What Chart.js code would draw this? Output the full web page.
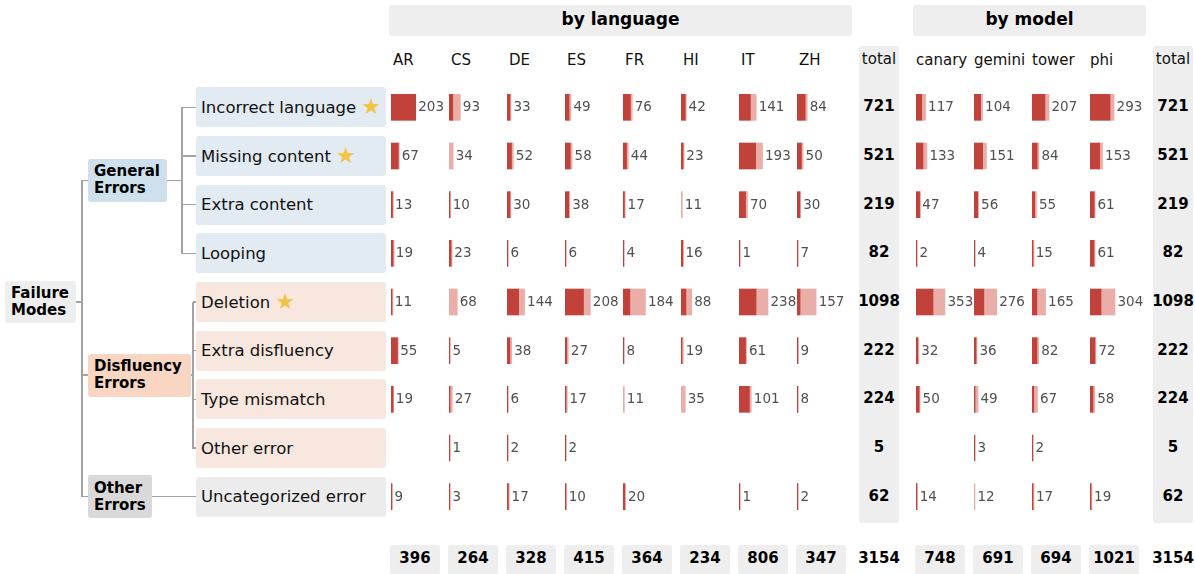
<!DOCTYPE html>
<html>
<head>
<meta charset="utf-8">
<script src="https://cdn.jsdelivr.net/npm/chart.js@4.4.0/dist/chart.umd.min.js"></script>
<style>
  body { margin: 0; background: #fff; font-family: "DejaVu Sans", sans-serif; }
  #fig { position: relative; width: 1195px; height: 574px; overflow: hidden; }
  .abs { position: absolute; box-sizing: border-box; }
  .box { border-radius: 3px; display: flex; align-items: center; }
  .bold { font-weight: bold; color: #000; }
  .line { position: absolute; background: #a3a3a3; }
  .star { color: #f2c443; font-size: 22px; margin-left: 5px; line-height: 1; }
</style>
</head>
<body>
<div id="fig"></div>
<script>
// rows of the table (failure modes)
const rowLabels = ['Incorrect language', 'Missing content', 'Extra content', 'Looping',
    'Deletion', 'Extra disfluency', 'Type mismatch', 'Other error', 'Uncategorized error'];
const starred = [true, true, false, false, true, false, false, false, false];
const rowGroup = [0, 0, 0, 0, 1, 1, 1, 1, 2];
const groupLabels = [['General', 'Errors'], ['Disfluency', 'Errors'], ['Other', 'Errors']];

const languages = ['AR', 'CS', 'DE', 'ES', 'FR', 'HI', 'IT', 'ZH'];
const models = ['canary', 'gemini', 'tower', 'phi'];

// counts per column (one list per language, one value per row)
const langCounts = [
    [203, 67, 13, 19, 11, 55, 19, 0, 9],
    [93, 34, 10, 23, 68, 5, 27, 1, 3],
    [33, 52, 30, 6, 144, 38, 6, 2, 17],
    [49, 58, 38, 6, 208, 27, 17, 2, 10],
    [76, 44, 17, 4, 184, 8, 11, 0, 20],
    [42, 23, 11, 16, 88, 19, 35, 0, 0],
    [141, 193, 70, 1, 238, 61, 101, 0, 1],
    [84, 50, 30, 7, 157, 9, 8, 0, 2]
];
// dark part of each bar (the rest is the light part)
const langDark = [
    [203, 60, 12, 17, 7, 53, 19, 0, 9],
    [31, 0, 10, 17, 0, 5, 8, 1, 3],
    [24, 37, 24, 6, 96, 23, 6, 2, 11],
    [33, 43, 31, 6, 152, 14, 6, 2, 10],
    [61, 29, 11, 4, 56, 8, 0, 0, 14],
    [35, 17, 0, 14, 40, 8, 0, 0, 0],
    [94, 137, 54, 1, 140, 54, 85, 0, 1],
    [67, 36, 23, 7, 25, 9, 8, 0, 2]
];
const modelCounts = [
    [117, 133, 47, 2, 353, 32, 50, 0, 14],
    [104, 151, 56, 4, 276, 36, 49, 3, 12],
    [207, 84, 55, 15, 165, 82, 67, 2, 17],
    [293, 153, 61, 61, 304, 72, 58, 0, 19]
];
const modelDark = [
    [70, 85, 44, 2, 207, 22, 38, 0, 14],
    [81, 105, 45, 4, 120, 25, 12, 3, 0],
    [158, 63, 33, 9, 59, 59, 22, 2, 10],
    [244, 118, 51, 49, 134, 60, 36, 0, 12]
];

const colors = {
    dark: '#c1423a',
    light: '#eaada8',
    label: '#505050',
    header: '#eeeeee',
    rowBg: ['#e2eaf2', '#f7e7df', '#ececec'],
    groupBg: ['#cde0ec', '#f8d6c2', '#d9d9d9']
};

// layout
const fig = document.getElementById('fig');
const chartTop = 83;
const chartH = 438;
const rowH = chartH / rowLabels.length;
const colW = 58;
const maxBarPx = 29;
const langLeft = 391;
const modelLeft = 916;
const rowCenter = i => chartTop + rowH * (i + 0.5);

function el(cls, x, y, w, h, bg, html) {
    const d = document.createElement('div');
    d.className = cls;
    d.style.left = x + 'px';
    d.style.top = y + 'px';
    if (w != null) d.style.width = w + 'px';
    if (h != null) d.style.height = h + 'px';
    if (bg) d.style.background = bg;
    if (html != null) d.innerHTML = html;
    fig.appendChild(d);
    return d;
}

function hLine(x1, x2, y) { el('line', x1, y - 0.75, x2 - x1, 1.5); }
function vLine(x, y1, y2) { el('line', x - 0.75, y1, 1.5, y2 - y1 + 0.75); }

function centeredText(text, cx, cy, w, font) {
    const d = el('abs', cx - w / 2, cy - 10, w, 20, null, text);
    d.style.textAlign = 'center';
    d.style.lineHeight = '20px';
    d.style.font = font;
    return d;
}

// tree on the left
function drawTree() {
    const fm = el('abs box bold', 5, rowCenter(4) - 21, 71, 42, colors.header, 'Failure<br>Modes');
    fm.style.cssText += 'font-size:15px;line-height:17px;padding-left:6px;';

    const groupBoxes = [
        { x: 88, w: 79, rows: [0, 1, 2, 3] },
        { x: 88, w: 103, rows: [4, 5, 6, 7] },
        { x: 88, w: 64, rows: [8] }
    ];
    const gy = groupBoxes.map(g => (rowCenter(g.rows[0]) + rowCenter(g.rows[g.rows.length - 1])) / 2);

    // root lines
    hLine(76, 82, rowCenter(4));
    vLine(82, gy[0], gy[2]);
    gy.forEach(y => hLine(82, 88, y));

    groupBoxes.forEach((g, k) => {
        const b = el('abs box bold', g.x, gy[k] - 21.5, g.w, 43, colors.groupBg[k], groupLabels[k].join('<br>'));
        b.style.cssText += 'font-size:15px;line-height:17px;padding-left:6px;';
        const right = g.x + g.w;
        if (g.rows.length === 1) {
            hLine(right, 196, gy[k]);
        } else {
            const vx = k === 0 ? 182 : 193;
            hLine(right, vx, gy[k]);
            vLine(vx, rowCenter(g.rows[0]), rowCenter(g.rows[g.rows.length - 1]));
            g.rows.forEach(r => hLine(vx, 196, rowCenter(r)));
        }
    });

    rowLabels.forEach((lab, i) => {
        const b = el('abs box', 196, rowCenter(i) - 20, 190, 40, colors.rowBg[rowGroup[i]],
            lab + (starred[i] ? '<span class="star">★</span>' : ''));
        b.style.cssText += 'font-size:16.5px;padding-left:5px;color:#111;';
    });
}

// headers, total columns and bottom totals
function drawFrame() {
    const hl = el('abs box bold', 389, 5, 463, 31, colors.header, 'by language');
    hl.style.cssText += 'justify-content:center;font-size:17px;padding-bottom:4px;';
    const hm = el('abs box bold', 913, 5, 233, 31, colors.header, 'by model');
    hm.style.cssText += 'justify-content:center;font-size:17px;padding-bottom:4px;';

    languages.forEach((l, i) => {
        const d = el('abs', langLeft + colW * i + 2, 50, null, 20, null, l);
        d.style.cssText += 'font-size:15px;line-height:20px;color:#111;';
    });
    models.forEach((m, j) => {
        const d = el('abs', modelLeft + colW * j, 50, null, 20, null, m);
        d.style.cssText += 'font-size:15px;line-height:20px;color:#111;';
    });

    const totalCols = [879, 1173];
    totalCols.forEach(cx => {
        el('abs', cx - 20, 46, 40, 477, colors.header).style.borderRadius = '3px';
        centeredText('total', cx, 60, 60, '15px "DejaVu Sans"').style.color = '#111';
    });

    const rowTotalLang = rowLabels.map((_, i) => langCounts.reduce((s, c) => s + c[i], 0));
    const rowTotalModel = rowLabels.map((_, i) => modelCounts.reduce((s, c) => s + c[i], 0));
    rowLabels.forEach((_, i) => {
        centeredText(rowTotalLang[i], totalCols[0], rowCenter(i), 60, 'bold 15px "DejaVu Sans"');
        centeredText(rowTotalModel[i], totalCols[1], rowCenter(i), 60, 'bold 15px "DejaVu Sans"');
    });

    const bottomY = 559;
    const colTotal = arr => arr.reduce((a, b) => a + b, 0);
    langCounts.forEach((c, i) => {
        el('abs', langLeft + colW * i - 1, 545, 50, 30, colors.header).style.borderRadius = '3px';
        centeredText(colTotal(c), langLeft + colW * i + 24, bottomY, 50, 'bold 15px "DejaVu Sans"');
    });
    modelCounts.forEach((c, j) => {
        el('abs', modelLeft + colW * j - 1, 545, 50, 30, colors.header).style.borderRadius = '3px';
        centeredText(colTotal(c), modelLeft + colW * j + 24, bottomY, 50, 'bold 15px "DejaVu Sans"');
    });
    centeredText(colTotal(rowTotalLang), totalCols[0], bottomY, 60, 'bold 15px "DejaVu Sans"');
    centeredText(colTotal(rowTotalModel), totalCols[1], bottomY, 60, 'bold 15px "DejaVu Sans"');
}

// count written right after each bar
function countLabels(counts) {
    return {
        id: 'countLabels',
        afterDatasetsDraw(chart) {
            const { ctx, scales: { x, y } } = chart;
            ctx.save();
            ctx.font = '13.5px "DejaVu Sans"';
            ctx.fillStyle = colors.label;
            ctx.textBaseline = 'middle';
            counts.forEach((c, i) => {
                if (!c) return;
                const end = Math.max(x.getPixelForValue(c), x.left + 1);
                ctx.fillText(String(c), end + 2.5, y.getPixelForValue(i) + 0.5);
            });
            ctx.restore();
        }
    };
}

function renderColumn(left, counts, dark, groupMax) {
    const canvas = document.createElement('canvas');
    canvas.width = colW;
    canvas.height = chartH;
    canvas.style.cssText = `position:absolute;left:${left}px;top:${chartTop}px;width:${colW}px;height:${chartH}px;`;
    fig.appendChild(canvas);

    const darkData = dark.map(v => v > 0 ? v : null);
    const lightData = counts.map((c, i) => c - dark[i] > 0 ? c - dark[i] : null);

    new Chart(canvas.getContext('2d'), {
        type: 'bar',
        data: {
            labels: rowLabels,
            datasets: [
                { data: darkData, backgroundColor: colors.dark },
                { data: lightData, backgroundColor: colors.light }
            ]
        },
        options: {
            indexAxis: 'y',
            responsive: false,
            animation: false,
            events: [],
            datasets: { bar: { barThickness: 26, minBarLength: 1, borderWidth: 0 } },
            layout: { padding: 0 },
            plugins: { legend: { display: false }, tooltip: { enabled: false } },
            scales: {
                x: { stacked: true, display: false, min: 0, max: groupMax * colW / maxBarPx },
                y: { stacked: true, display: false }
            }
        },
        plugins: [countLabels(counts)]
    });
}

drawTree();
drawFrame();

const langMax = Math.max(...langCounts.flat());
const modelMax = Math.max(...modelCounts.flat());
langCounts.forEach((c, i) => renderColumn(langLeft + colW * i, c, langDark[i], langMax));
modelCounts.forEach((c, j) => renderColumn(modelLeft + colW * j, c, modelDark[j], modelMax));
</script>
</body>
</html>
